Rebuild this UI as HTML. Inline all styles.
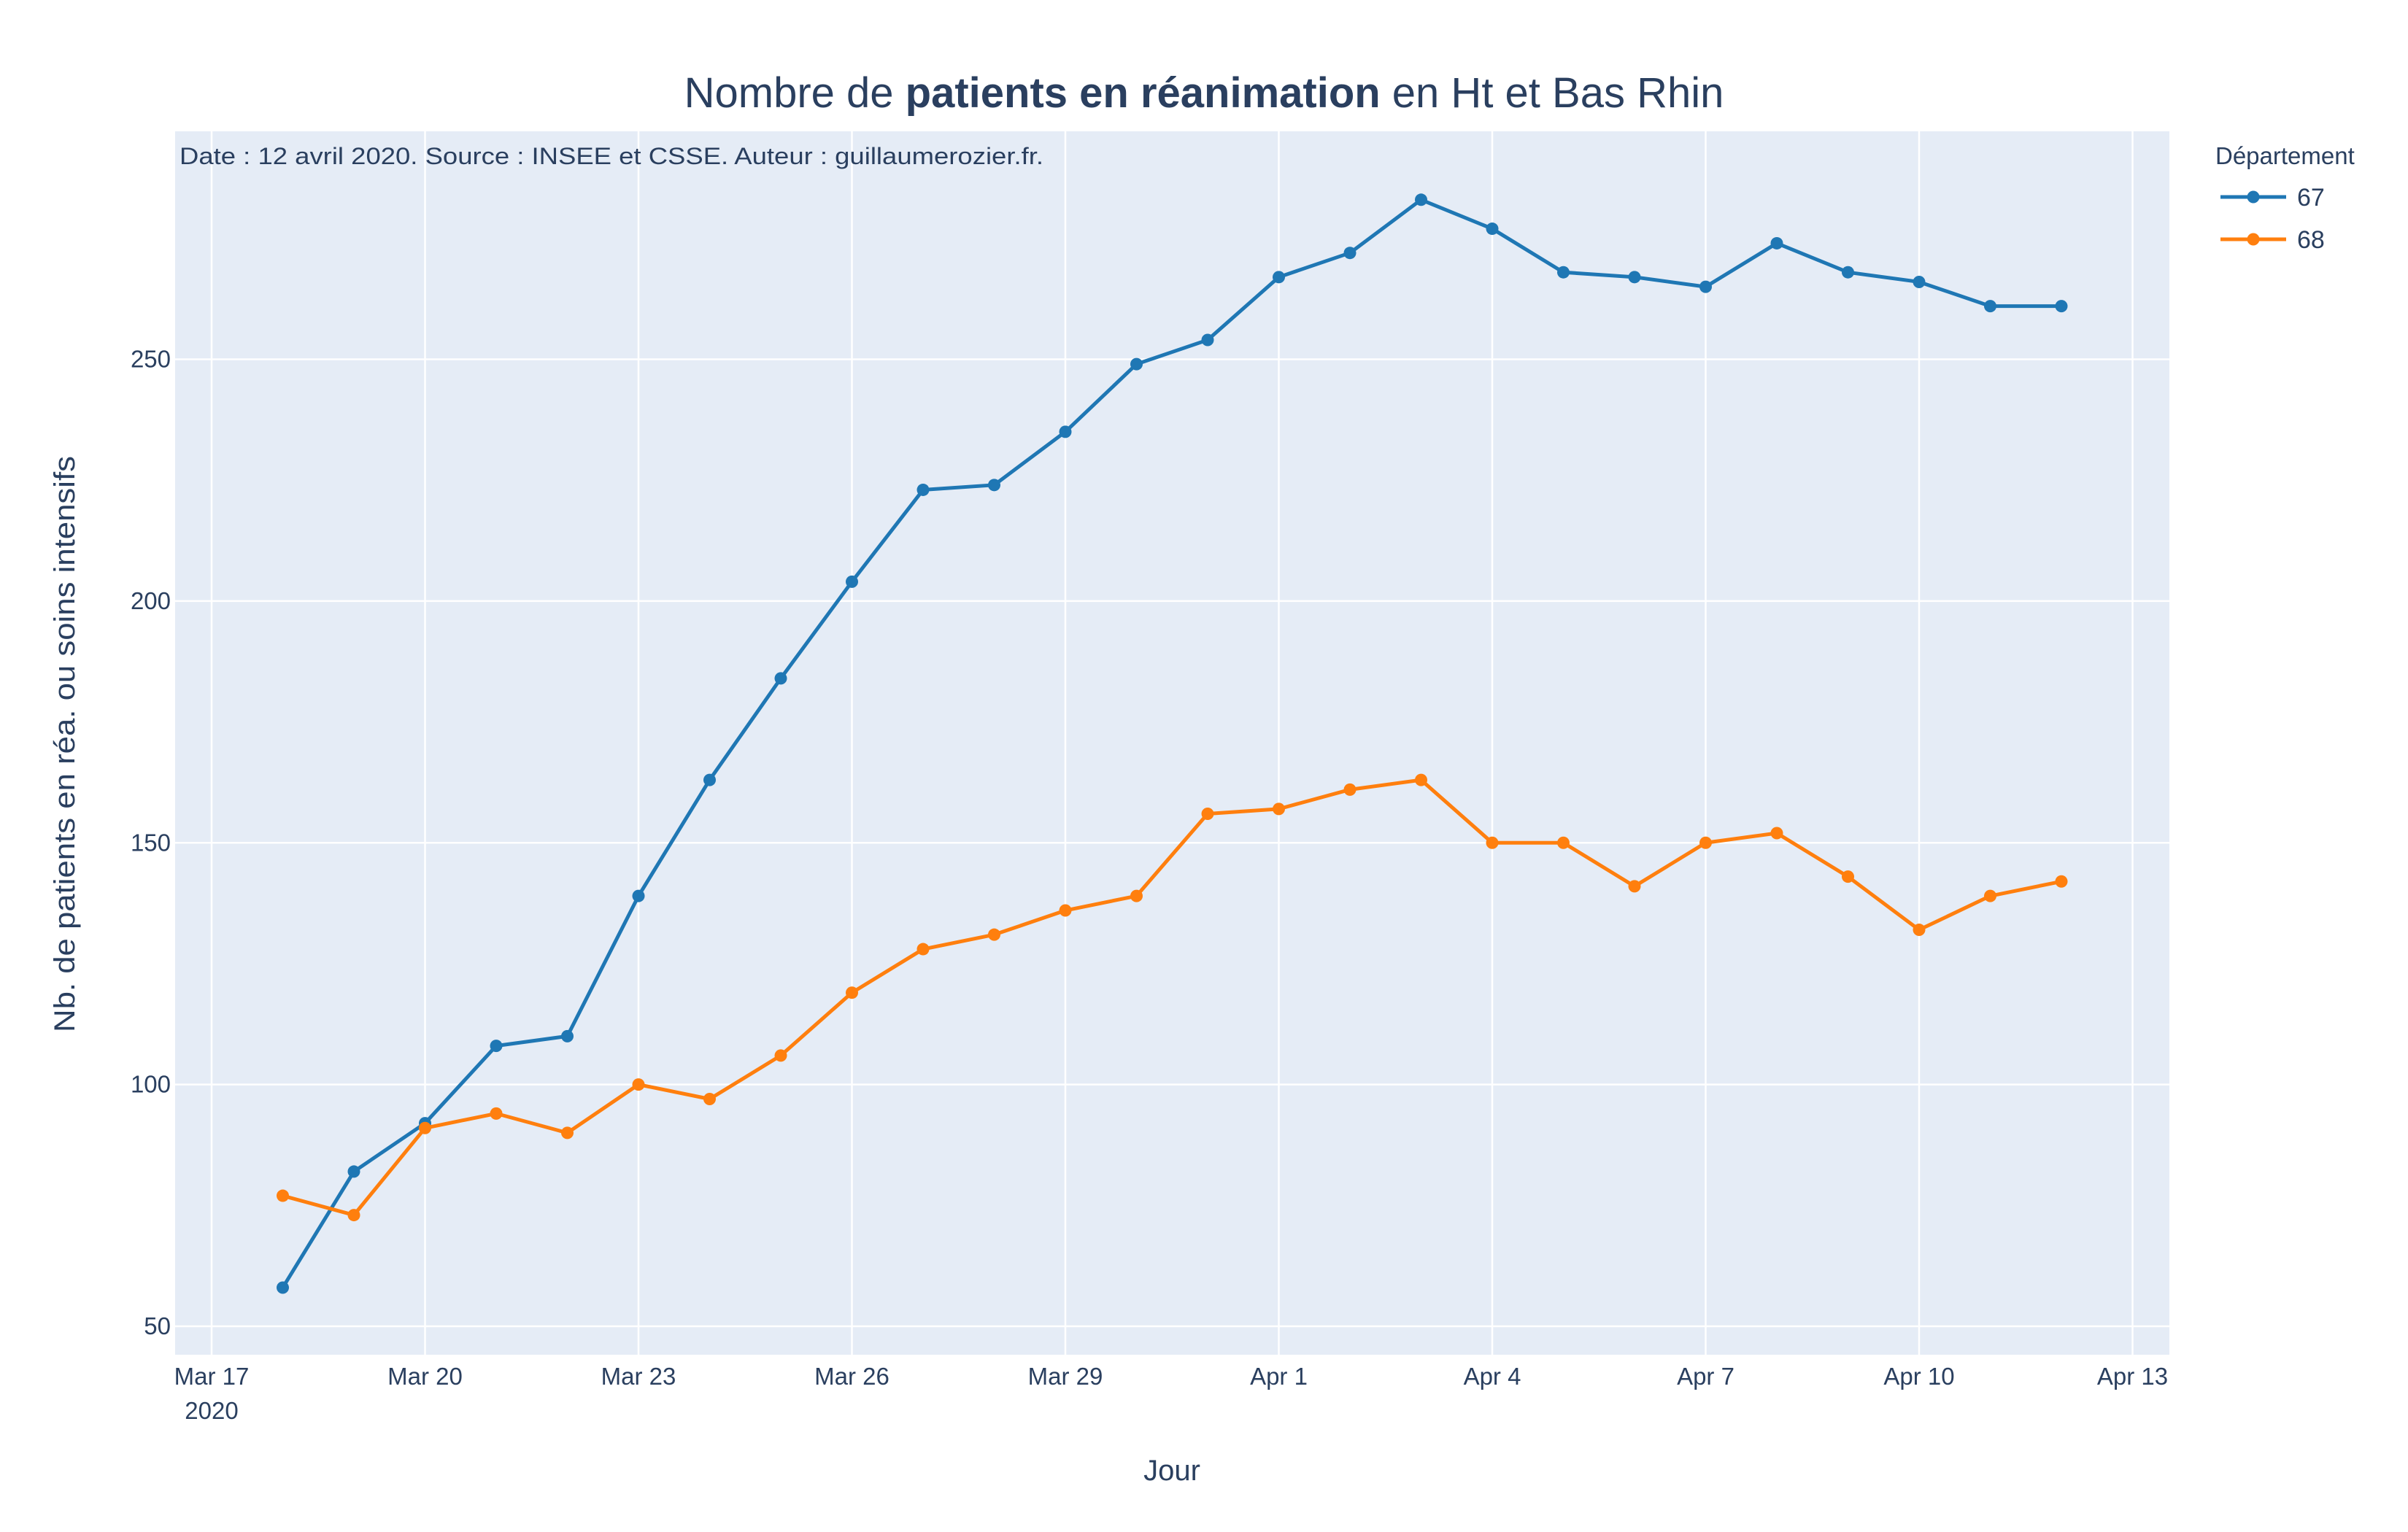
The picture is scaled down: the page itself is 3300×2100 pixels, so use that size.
<!DOCTYPE html>
<html><head><meta charset="utf-8">
<style>
html,body{margin:0;padding:0;background:#fff;}
svg{display:block;font-family:"Liberation Sans",sans-serif;}
</style></head>
<body>
<svg id="chart" width="3300" height="2100" viewBox="0 0 3300 2100" xmlns="http://www.w3.org/2000/svg">
<rect x="240" y="180" width="2733" height="1677" fill="#e5ecf6"/>
<g id="grid"></g>
<g id="series"></g>
<g id="ticks" fill="#2a3f5f" font-size="33"></g>
<text x="1650" y="147" text-anchor="middle" font-size="58" fill="#2a3f5f">Nombre de <tspan font-weight="bold">patients en réanimation</tspan> en Ht et Bas Rhin</text>
<text x="246" y="225" font-size="32" fill="#2a3f5f" textLength="1184" lengthAdjust="spacingAndGlyphs">Date : 12 avril 2020. Source : INSEE et CSSE. Auteur : guillaumerozier.fr.</text>
<text transform="translate(102,1020) rotate(-90)" text-anchor="middle" font-size="40" fill="#2a3f5f" textLength="790" lengthAdjust="spacingAndGlyphs">Nb. de patients en réa. ou soins intensifs</text>
<text x="1606" y="2029" text-anchor="middle" font-size="40" fill="#2a3f5f">Jour</text>
<g>
<text x="3036" y="225" font-size="33" fill="#2a3f5f">Département</text>
<g>
<line x1="3043" y1="270" x2="3133" y2="270" stroke="#1f77b4" stroke-width="5"/>
<circle cx="3088" cy="270" r="8.5" fill="#1f77b4"/>
<text x="3148" y="282" font-size="34" fill="#2a3f5f">67</text>
</g>
<g>
<line x1="3043" y1="328" x2="3133" y2="328" stroke="#ff7f0e" stroke-width="5"/>
<circle cx="3088" cy="328" r="8.5" fill="#ff7f0e"/>
<text x="3148" y="340" font-size="34" fill="#2a3f5f">68</text>
</g>
</g>
</svg>
<script>
const dayOffsets=[1,2,3,4,5,6,7,8,9,10,11,12,13,14,15,16,17,18,19,20,21,22,23,24,25,26];
const series67=[58,82,92,108,110,139,163,184,204,223,224,235,249,254,267,272,283,277,268,267,265,274,268,266,261,261];
const series68=[77,73,91,94,90,100,97,106,119,128,131,136,139,156,157,161,163,150,150,141,150,152,143,132,139,142];
const xTickDays=[0,3,6,9,12,15,18,21,24,27];
const xTickLabels=["Mar 17","Mar 20","Mar 23","Mar 26","Mar 29","Apr 1","Apr 4","Apr 7","Apr 10","Apr 13"];
const yTicks=[50,100,150,200,250];

const NS="http://www.w3.org/2000/svg";
const X0=240,X1=2973,Y0=180,Y1=1857;
function xs(d){return 290+d*97.5;}
function ys(v){return 1818-(v-50)*(1818-492.5)/200;}
function mk(tag,attrs,parent){const e=document.createElementNS(NS,tag);for(const k in attrs)e.setAttribute(k,attrs[k]);parent.appendChild(e);return e;}
const grid=document.getElementById('grid'),ticks=document.getElementById('ticks'),ser=document.getElementById('series');
xTickDays.forEach((d,i)=>{
  const l=mk('line',{x1:xs(d),x2:xs(d),y1:Y0,y2:Y1,stroke:'#fff','stroke-width':2.5},grid);
  
  
  const t=mk('text',{x:xs(d),y:1898,'text-anchor':'middle'},ticks);
  
  
  t.textContent=xTickLabels[i];
});
const yr=mk('text',{x:xs(0),y:1945,'text-anchor':'middle'},ticks);


yr.textContent='2020';
yTicks.forEach(v=>{
  const l=mk('line',{x1:X0,x2:X1,y1:ys(v),y2:ys(v),stroke:'#fff','stroke-width':2.5},grid);
  
  
  const t=mk('text',{x:234,y:ys(v)+11,'text-anchor':'end'},ticks);
  
  
  t.textContent=String(v);
});
function draw(vals,color,name){
  const g=mk('g',{},ser);
  
  
  const p=mk('polyline',{points:vals.map((v,i)=>xs(dayOffsets[i])+','+ys(v)).join(' '),fill:'none',stroke:color,'stroke-width':5,'stroke-linejoin':'round'},g);
  
  
  vals.forEach((v,i)=>{
    const c=mk('circle',{cx:xs(dayOffsets[i]),cy:ys(v),r:8.5,fill:color},g);
    
    
  });
}
draw(series67,'#1f77b4','67');
draw(series68,'#ff7f0e','68');
</script>
</body></html>
